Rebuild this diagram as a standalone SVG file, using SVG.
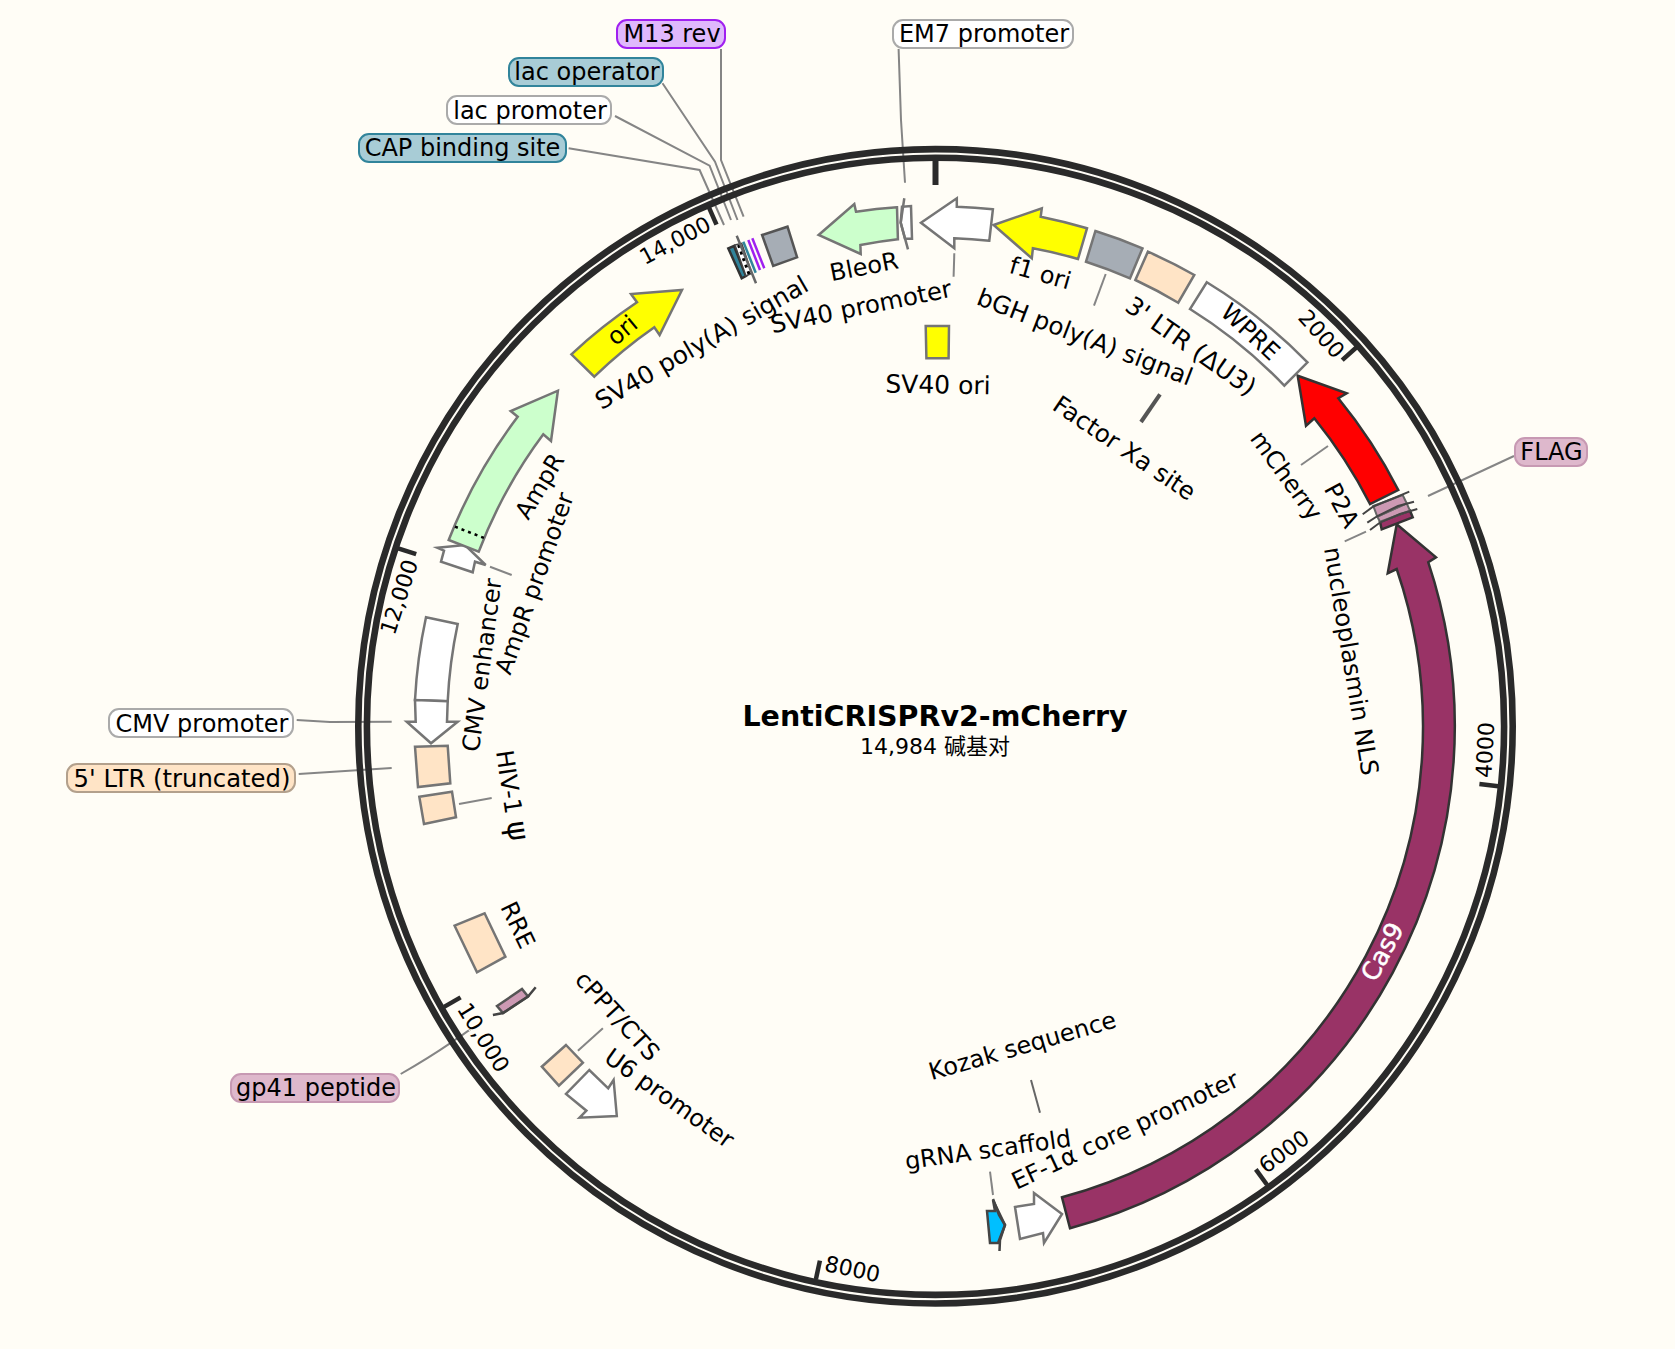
<svg xmlns="http://www.w3.org/2000/svg" width="1675" height="1349" viewBox="0 0 1675 1349">
<style>
text{font-family:"DejaVu Sans","Noto Sans CJK SC",sans-serif;font-size:24px;fill:#000;text-anchor:middle}
.tick{font-size:22px}
.f{stroke:#757575;stroke-width:2.5;stroke-linejoin:miter}
.d{stroke:#333;stroke-width:2.5}
.w{fill:#fff}.g{fill:#ccffcc}.y{fill:#ffff00}.b{fill:#ffe4c6}.s{fill:#a6adb5}.m{fill:#993366}.p{fill:#cc99b3}
.ring{fill:none;stroke:#2a2a2a;stroke-width:6.6}
.t{stroke:#2a2a2a;stroke-width:4.5}
.l{fill:none;stroke:#858585;stroke-width:2}
.box{stroke-width:2}
</style>
<rect width="1675" height="1349" fill="#fffdf6"/>
<g id="connectors">
<polyline class="l" points="721,49 721,160 743.6,216.7"/>
<polyline class="l" points="662.5,83.3 715,161.7 737.5,220"/>
<polyline class="l" points="615,116 709.6,165.7 731,220"/>
<polyline class="l" points="568.6,148.3 699.6,170 724,225"/>
<polyline class="l" points="898.6,49 901,120 905,182.7"/>
<polyline class="l" points="296.7,720 330,722 391.7,721.7"/>
<polyline class="l" points="298.7,774 391.7,768"/>
<path class="l" d="M400.7 1074Q430 1057 450 1043.3T469.6 1030"/>
<line class="l" x1="1514" y1="456" x2="1428" y2="496"/>
<line class="l" x1="1031" y1="1080" x2="1040" y2="1112.7" style="stroke:#666"/>
<line class="l" x1="990" y1="1171.7" x2="993" y2="1195"/>
<line class="l" x1="1328" y1="446" x2="1301" y2="465"/>
<line class="l" x1="1366" y1="531.7" x2="1344.7" y2="541.3"/>
<line class="l" x1="1105.7" y1="274" x2="1094" y2="305.7"/>
<line class="l" x1="954.3" y1="253.3" x2="953.6" y2="276.7"/>
<line class="l" x1="490" y1="566.7" x2="511.7" y2="575"/>
<line class="l" x1="459" y1="804" x2="491.7" y2="798"/>
<line class="l" x1="577.9" y1="1050.7" x2="602.9" y2="1028.3"/>
</g>
<g id="backbone">
<circle class="ring" cx="935.5" cy="726.3" r="577.2"/>
<circle class="ring" cx="935.5" cy="726.3" r="568.6"/>
<line class="t" x1="935.5" y1="160" x2="935.5" y2="185" style="stroke-width:6"/>
<line class="t" x1="1356.3" y1="347.5" x2="1342.2" y2="360.2"/>
<line class="t" x1="1498.3" y1="786.2" x2="1479.4" y2="784.1"/>
<line class="t" x1="1267" y1="1184.8" x2="1255.8" y2="1169.4"/>
<line class="t" x1="815.9" y1="1279.2" x2="819.9" y2="1260.6"/>
<line class="t" x1="444.1" y1="1006.9" x2="460.6" y2="997.4"/>
<line class="t" x1="398.1" y1="548.3" x2="416.2" y2="554.2"/>
<line class="t" x1="708.9" y1="207.3" x2="716.5" y2="224.7"/>
<text class="tick" dy=".35em" transform="translate(1321.5 334) rotate(48)">2000</text>
<text class="tick" dy=".35em" transform="translate(1485 750) rotate(-87)">4000</text>
<text class="tick" dy=".35em" transform="translate(1284 1151.6) rotate(-36)">6000</text>
<text class="tick" dy=".35em" transform="translate(852.5 1269) rotate(12)">8000</text>
<text class="tick" dy=".35em" transform="translate(483.5 1037.5) rotate(58)">10,000</text>
<text class="tick" dy=".35em" transform="translate(399 597) rotate(-72)">12,000</text>
<text class="tick" dy=".35em" transform="translate(675 240.4) rotate(-28)">14,000</text>
</g>
<g id="title">
<text dy=".35em" x="935" y="716" style="font-weight:bold;font-size:28.5px">LentiCRISPRv2-mCherry</text>
<text dy=".35em" x="935" y="746" style="font-size:22px">14,984 碱基对</text>
</g>
<g id="ori"><path class="f y" d="M571.4 354.3A520 520 0 0 1 637 302.3L631 294L682 290L659.6 335L654.3 327.3A487 487 0 0 0 594.3 376.7Z"/>
<text dy=".35em" transform="translate(622 330) rotate(-40)">ori</text></g>
<g id="AmpR-promoter"><path class="f w" d="M437.3 547.7L465 545L485.7 565L475 561.7L472.7 572.3L441 561.7L444 550.7Z"/></g>
<g id="AmpR"><path class="f g" d="M448.7 540A520 520 0 0 1 517.7 416.7L510.7 411L557.9 390.7L551 441L543.3 434.3A487 487 0 0 0 478.7 551.7Z"/>
<line x1="455" y1="526.7" x2="485" y2="538.3" stroke="#000" stroke-width="2.5" stroke-dasharray="3 4"/></g>
<g id="CMV-enhancer"><path class="f w" d="M426 617.3A520 520 0 0 0 415 700L447.7 701.3A487 487 0 0 1 457.7 624Z"/></g>
<g id="CMV-promoter"><path class="f w" d="M415 700L415.7 721.7L406.7 721.7L431 743.3L457.7 721.7L447 721.7L447.7 701.3Z"/></g>
<g id="LTR5"><path class="f b" d="M415 746.7L447.7 745.7L450.3 783.3L418 787Z"/></g>
<g id="HIV-psi"><path class="f b" d="M419.3 796.7L452 791.7L456 817.3L424 824Z"/></g>
<g id="RRE"><path class="f b" d="M454.6 925.7L484.6 913.3L505.4 956.7L477 972.3Z"/></g>
<g id="gp41"><path class="d p" d="M497 1006L522 989L528 996.5L503 1013Z" style="stroke:#555"/>
<polyline class="d" fill="none" points="535.7,987.3 528,996.5 503,1013 492.9,1015" style="stroke:#444"/></g>
<g id="cPPT"><path class="f b" d="M566 1045L582.9 1062.7L558.9 1085.7L541.8 1066.7Z"/></g>
<g id="U6"><path class="f w" d="M589.3 1070L566 1094L586.4 1110.7L579.6 1117.7L616.8 1116L613.6 1080L608.2 1088.3Z"/></g>
<g id="gRNA"><path fill="#00bfff" stroke="#444" stroke-width="2.5" d="M987 1211L995 1211L993 1200L1005 1225L998 1243L990 1243Z"/>
<polyline fill="none" stroke="#444" stroke-width="2.5" points="993,1199 999,1215 1005,1225 1000,1240 999.5,1251"/></g>
<g id="EF1a"><path class="f w" d="M1015 1207L1034 1204L1034 1193L1062 1214L1044 1243L1043 1233L1020 1239Z"/></g>
<g id="Cas9"><path class="d m" d="M1396.7 524.3L1436 557.3L1428.3 562.3A520 520 0 0 1 1070 1228.3L1062 1197.3A487 487 0 0 0 1396.7 569L1387.7 573.3Z"/>
<text dy=".35em" style="fill:#fff;font-size:25px;stroke:#fff;stroke-width:.5" transform="translate(1382.3 951.7) rotate(-62)">Cas9</text></g>
<g id="NLS"><path class="d m" d="M1380 521.7L1410 510.7L1412.7 517.3L1381.7 529.3Z"/></g>
<g id="P2A"><path class="p" stroke="#666" stroke-width="2" d="M1377.3 516.7L1406.7 503.3L1410 510.7L1380 521.7Z"/></g>
<g id="FLAG"><path class="p" stroke="#666" stroke-width="2" d="M1373.3 506L1402.7 495L1406.7 503.3L1377.3 516.7Z"/>
<polyline fill="none" stroke="#444" stroke-width="2" points="1362.7,514.3 1373.3,506.5 1393,498.5 1409.3,491.7"/><polyline fill="none" stroke="#444" stroke-width="2" points="1367.3,522.7 1377.5,516 1398,506 1414,501.7"/><polyline fill="none" stroke="#444" stroke-width="2" points="1370,530 1380,522.5 1400,514 1417.3,509"/></g>
<g id="mCherry"><path class="d" fill="#ff0000" d="M1297.7 375.7L1346.7 393.3L1338.3 398.3A520 520 0 0 1 1398.3 490L1370 504A487 487 0 0 0 1314.3 418.3L1306 425.7Z"/></g>
<g id="WPRE"><path class="f w" d="M1206.8 282.3A520 520 0 0 1 1307.5 362.3L1284.3 385.7A487 487 0 0 0 1190 309Z"/>
<text dy=".35em" transform="translate(1250.5 331.7) rotate(43)">WPRE</text></g>
<g id="LTR3"><path class="f b" d="M1147.9 251.7A520 520 0 0 1 1194.3 275L1178.2 302.7A487 487 0 0 0 1135.4 280Z"/></g>
<g id="bGH"><path class="f s" d="M1095.4 231A520 520 0 0 1 1142.5 248.3L1130 278.3A487 487 0 0 0 1086 261.7Z"/></g>
<g id="f1-ori"><path class="f y" d="M993.6 225L1041.8 208.3L1040.7 216.7A520 520 0 0 1 1087 228.3L1078 259A487 487 0 0 0 1032.9 248.3L1031.8 258.3Z"/></g>
<g id="SV40-promoter"><path class="f w" d="M921 222.7L956.8 198.3L956.8 206.7A520 520 0 0 1 992.9 209.3L989.3 240.7A487 487 0 0 0 954.3 238.3L954.3 248.3Z"/></g>
<g id="EM7"><path class="f w" d="M902 206.7L911 206L912 238.7L905 238.7L900.7 222.7Z"/>
<polyline class="f" fill="none" points="904.3,198.3 900.7,222.7 908,249.3"/></g>
<g id="BleoR"><path class="f g" d="M818.6 235L854.3 204L856 211.7A520 520 0 0 1 897 207.3L897.9 239.3A487 487 0 0 0 860.4 245L860.7 254Z"/></g>
<g id="SV40-polyA"><path class="f s" style="stroke:#555" d="M762.1 235L787.5 226.7L797.1 257.3L773.2 266Z"/></g>
<g id="SV40-ori"><path class="f y" d="M925.7 326L949 326L948.6 358.3L926.4 358.3Z"/></g>
<g id="FactorXa"><line x1="1160" y1="394.3" x2="1141" y2="422" stroke="#555" stroke-width="4"/></g>
<g id="CAP-site"><path fill="#31849b" stroke="#333" stroke-width="2.5" d="M728.3 248.3L734 246L746 276L741.7 278.3Z"/></g>
<g id="lac-promoter"><path fill="#fff" stroke="#444" stroke-width="1.5" d="M735 245L741.7 243.3L751.7 273.3L746 276Z"/>
<line x1="738.5" y1="245" x2="749" y2="274" stroke="#000" stroke-width="3" stroke-dasharray="3 4"/></g>
<g id="lac-operator"><line x1="743.3" y1="241.7" x2="755.7" y2="272.7" stroke="#31849b" stroke-width="2.5"/></g>
<g id="stack-site"><line x1="736.7" y1="235.7" x2="756" y2="283.3" stroke="#666" stroke-width="2.5"/></g>
<g id="M13-rev"><line x1="748.3" y1="240" x2="760" y2="270" stroke="#a020f0" stroke-width="2.5"/><line x1="752.3" y1="238.3" x2="764.3" y2="268.3" stroke="#a020f0" stroke-width="2.5"/></g>
<g id="labels">
<text dy=".35em" style="font-size:24.7px" transform="translate(701.5 342.5) rotate(-30)">SV40 poly(A) signal</text>
<text dy=".35em" transform="translate(864 266.5) rotate(-11)">BleoR</text>
<text dy=".35em" style="font-size:24.4px" transform="translate(861 306.5) rotate(-11.5)">SV40 promoter</text>
<text dy=".35em" transform="translate(1040.5 273) rotate(16)">f1 ori</text>
<text dy=".35em" style="font-size:24.5px" transform="translate(1085 337) rotate(21)">bGH poly(A) signal</text>
<text dy=".35em" style="font-size:25px" transform="translate(1191 346) rotate(35)">3' LTR (ΔU3)</text>
<text dy=".35em" style="font-size:24.4px" transform="translate(1124.5 448) rotate(34)">Factor Xa site</text>
<text dy=".35em" style="font-size:25px" transform="translate(938 384.6) rotate(1)">SV40 ori</text>
<text dy=".35em" transform="translate(1286.5 475.4) rotate(54)">mCherry</text>
<text dy=".35em" transform="translate(1341.8 505.3) rotate(62)">P2A</text>
<text dy=".35em" style="font-size:24.3px" transform="translate(1351.4 661) rotate(80.5)">nucleoplasmin NLS</text>
<text dy=".35em" transform="translate(1022.4 1045.5) rotate(-16)">Kozak sequence</text>
<text dy=".35em" transform="translate(988 1149.5) rotate(-8)">gRNA scaffold</text>
<text dy=".35em" transform="translate(1125 1130) rotate(-25)">EF-1α core promoter</text>
<text dy=".35em" transform="translate(669.5 1098) rotate(35.5)">U6 promoter</text>
<text dy=".35em" transform="translate(617.5 1016) rotate(47.6)">cPPT/CTS</text>
<text dy=".35em" transform="translate(518 925) rotate(64.5)">RRE</text>
<text dy=".35em" transform="translate(511 795.5) rotate(81.5)">HIV-1 <tspan style="font-size:30px">ψ</tspan></text>
<text dy=".35em" transform="translate(481.8 665) rotate(-82.5)">CMV enhancer</text>
<text dy=".35em" transform="translate(534.2 583.3) rotate(-70.4)">AmpR promoter</text>
<text dy=".35em" transform="translate(539.5 486) rotate(-59)">AmpR</text>
</g>
<g id="callouts">
<g id="lbl-M13"><rect class="box" x="617" y="20" width="108" height="28" rx="10" fill="#dfb8fc" stroke="#a020f0"/><text dy=".35em" x="672" y="34">M13 rev</text></g>
<g id="lbl-lacop"><rect class="box" x="509" y="58" width="154" height="28" rx="10" fill="#a8ccd6" stroke="#31849b"/><text dy=".35em" x="587" y="72">lac operator</text></g>
<g id="lbl-lacpr"><rect class="box" x="447" y="96" width="164" height="28" rx="10" fill="#fff" stroke="#aaa"/><text dy=".35em" x="530" y="110.5">lac promoter</text></g>
<g id="lbl-CAP"><rect class="box" x="359" y="134" width="207" height="28" rx="10" fill="#a8ccd6" stroke="#31849b"/><text dy=".35em" x="462.5" y="148">CAP binding site</text></g>
<g id="lbl-EM7"><rect class="box" x="893" y="20" width="180" height="28" rx="10" fill="#fff" stroke="#aaa"/><text dy=".35em" x="984" y="34">EM7 promoter</text></g>
<g id="lbl-CMV"><rect class="box" x="109" y="709" width="184" height="28" rx="10" fill="#fff" stroke="#aaa"/><text dy=".35em" x="202" y="724">CMV promoter</text></g>
<g id="lbl-LTR5"><rect class="box" x="67" y="764" width="228" height="28" rx="10" fill="#ffe4c6" stroke="#b3a08c"/><text dy=".35em" x="182" y="778" style="font-size:24.3px">5' LTR (truncated)</text></g>
<g id="lbl-gp41"><rect class="box" x="231" y="1074" width="168" height="28" rx="10" fill="#deb8cc" stroke="#c799b3"/><text dy=".35em" x="316" y="1088">gp41 peptide</text></g>
<g id="lbl-FLAG"><rect class="box" x="1515" y="438" width="72" height="28" rx="10" fill="#deb8cc" stroke="#c799b3"/><text dy=".35em" x="1551.5" y="452">FLAG</text></g>
</g>
</svg>
